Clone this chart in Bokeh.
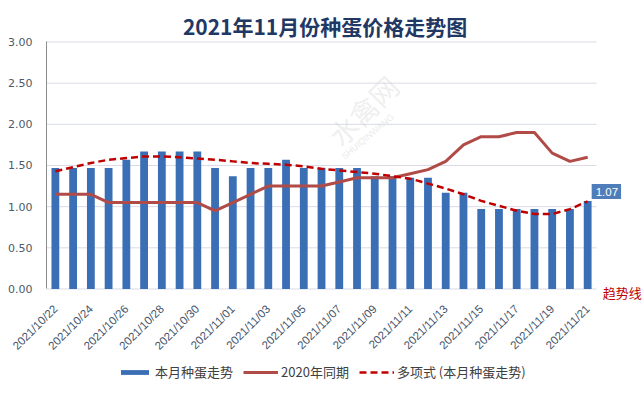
from bokeh.plotting import figure
from bokeh.models import Legend, LegendItem, Label, FixedTicker, NumeralTickFormatter
from bokeh.embed import file_html
from bokeh.resources import INLINE

dates = ["2021/10/22", "2021/10/23", "2021/10/24", "2021/10/25", "2021/10/26",
         "2021/10/27", "2021/10/28", "2021/10/29", "2021/10/30", "2021/10/31",
         "2021/11/01", "2021/11/02", "2021/11/03", "2021/11/04", "2021/11/05",
         "2021/11/06", "2021/11/07", "2021/11/08", "2021/11/09", "2021/11/10",
         "2021/11/11", "2021/11/12", "2021/11/13", "2021/11/14", "2021/11/15",
         "2021/11/16", "2021/11/17", "2021/11/18", "2021/11/19", "2021/11/20",
         "2021/11/21"]

this_month = [1.47, 1.47, 1.47, 1.47, 1.57, 1.67, 1.67, 1.67, 1.67, 1.47,
              1.37, 1.47, 1.47, 1.57, 1.47, 1.47, 1.47, 1.47, 1.37, 1.37,
              1.35, 1.35, 1.17, 1.17, 0.97, 0.97, 0.97, 0.97, 0.97, 0.97,
              1.07]

last_year = [1.15, 1.15, 1.15, 1.05, 1.05, 1.05, 1.05, 1.05, 1.05, 0.95,
             1.05, 1.15, 1.25, 1.25, 1.25, 1.25, 1.30, 1.35, 1.35, 1.35,
             1.40, 1.45, 1.55, 1.75, 1.85, 1.85, 1.90, 1.90, 1.65, 1.55,
             1.60]

trend = [1.43, 1.48, 1.53, 1.57, 1.59, 1.61, 1.61, 1.60, 1.585, 1.57,
         1.55, 1.53, 1.52, 1.51, 1.49, 1.46, 1.44, 1.42, 1.40, 1.37,
         1.34, 1.28, 1.22, 1.15, 1.07, 1.01, 0.95, 0.91, 0.91, 0.97,
         1.065]

y_ticks = [0.0, 0.5, 1.0, 1.5, 2.0, 2.5, 3.0]

title_text = "2021年11月份种蛋价格走势图"
series_names = ["本月种蛋走势", "2020年同期", "多项式 (本月种蛋走势)"]
trend_note = "趋势线"
watermark_cn = "水禽网"
watermark_en = "SHUIQINWANG"

idx = list(range(len(dates)))
n = len(dates)
cjk = "Noto Sans CJK SC"
grid_color = "#D9DCE6"

# The frame covers the whole canvas; axes are drawn at fixed locations inside
# it so that no text (title, tick labels, legend, notes) is clipped.
p = figure(width=642, height=396, output_backend="svg", toolbar_location=None,
           x_range=(-3.093, 33.09), y_range=(-1.306, 3.504),
           min_border_left=0, min_border_right=0, min_border_top=0,
           min_border_bottom=0)
p.outline_line_color = None
p.background_fill_color = "white"

# chart title
p.add_layout(Label(x=15.2, y=3.2, text=title_text, text_align="center",
                   text_baseline="middle", text_font=cjk,
                   text_font_size="21px", text_font_style="bold",
                   text_color="#1F3864"))

# horizontal grid lines limited to the category span
p.segment(x0=[-0.5] * len(y_ticks), x1=[n - 0.5] * len(y_ticks),
          y0=y_ticks, y1=y_ticks, line_color=grid_color, line_width=1)

bars = p.vbar(x=idx, top=this_month, width=0.44, fill_color="#3A6EB5",
              line_color=None)
l2020 = p.line(x=idx, y=last_year, line_color="#B14B47", line_width=3)
ltrend = p.line(x=idx, y=trend, line_color="#C00000", line_width=2.5,
                line_dash="7 4")

# faint watermark
p.add_layout(Label(x=17.35, y=2.17, text=watermark_cn, angle=0.78,
                   text_align="center", text_baseline="middle",
                   text_font=cjk, text_font_size="28px",
                   text_color="#C8C8C8", text_alpha=0.3))
p.add_layout(Label(x=17.6, y=1.85, text=watermark_en, angle=0.70,
                   text_align="center", text_baseline="middle",
                   text_font="Liberation Sans", text_font_size="9px",
                   text_color="#C8C8C8", text_alpha=0.4))

# y axis drawn at the left edge of the categories
p.yaxis.fixed_location = -0.5
p.yaxis.ticker = FixedTicker(ticks=y_ticks)
p.yaxis.bounds = (y_ticks[0], y_ticks[-1])
p.yaxis.formatter = NumeralTickFormatter(format="0.00")
p.yaxis.major_tick_line_color = None
p.yaxis.minor_tick_line_color = None
p.yaxis.axis_line_color = "#8C8C8C"
p.yaxis.major_label_text_font = "DejaVu Sans"
p.yaxis.major_label_text_font_size = "11px"
p.yaxis.major_label_text_color = "#4D5A6A"
p.yaxis.major_label_standoff = 8

# x axis drawn at y = 0
p.xaxis.fixed_location = 0
p.xaxis.ticker = FixedTicker(ticks=idx[::2])
p.xaxis.major_label_overrides = {i: dates[i] for i in idx[::2]}
p.xaxis.major_label_orientation = 0.785
p.xaxis.major_tick_line_color = None
p.xaxis.minor_tick_line_color = None
p.xaxis.axis_line_color = None
p.xaxis.major_label_text_font = "Liberation Sans"
p.xaxis.major_label_text_font_size = "11.5px"
p.xaxis.major_label_text_color = "#44546A"
p.xaxis.major_label_standoff = 12

p.xgrid.grid_line_color = None
p.ygrid.grid_line_color = None

legend = Legend(items=[LegendItem(label=series_names[0], renderers=[bars]),
                       LegendItem(label=series_names[1], renderers=[l2020]),
                       LegendItem(label=series_names[2], renderers=[ltrend])],
                orientation="horizontal", location=(117, 15),
                margin=0, padding=0, spacing=10, label_standoff=3,
                glyph_width=35, glyph_height=6, label_height=14,
                label_text_font=cjk, label_text_font_size="13px",
                label_text_color="#404040",
                border_line_color=None, background_fill_alpha=0)
p.add_layout(legend)

val_label = Label(x=idx[-1], y=this_month[-1], x_offset=4, y_offset=2,
                  text="%.2f" % this_month[-1], anchor="bottom_left",
                  text_color="white",
                  text_font="Liberation Sans", text_font_size="11.5px",
                  background_fill_color="#4E7DBA", padding=(4, 3, 4, 3))
p.add_layout(val_label)

trend_label = Label(x=idx[-1], y=0, x_offset=15, y_offset=-3.5,
                    text=trend_note, text_align="left",
                    text_baseline="middle",
                    text_color="#C00000", text_font=cjk,
                    text_font_size="13px")
p.add_layout(trend_label)

open("out.html", "w").write(file_html(p, INLINE))
